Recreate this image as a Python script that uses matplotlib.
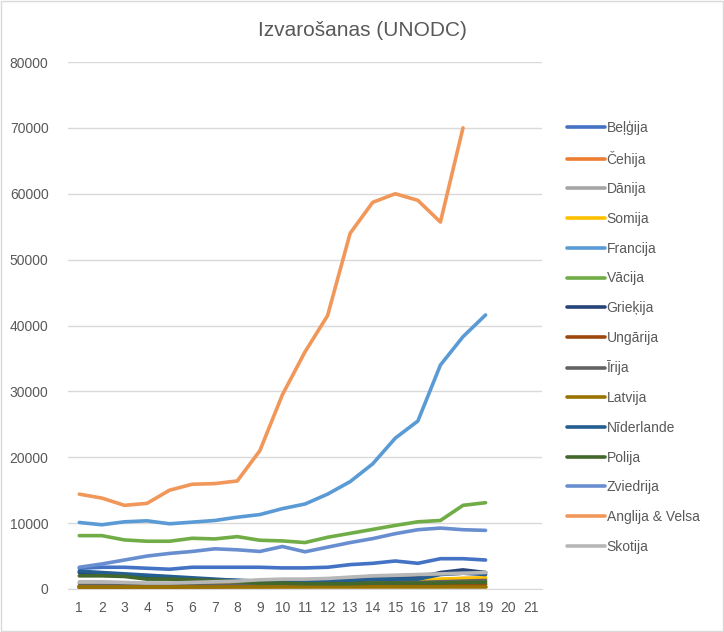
import matplotlib.pyplot as plt
import numpy as np

plt.rcParams['font.family'] = ['Liberation Sans', 'DejaVu Sans']

years = list(range(1, 22))

# values (series index 1..19, no data for 20, 21)
belgija = [3150, 3300, 3300, 3150, 3000, 3300, 3300, 3300, 3300, 3200, 3200, 3300, 3700, 3900, 4250, 3900, 4600, 4600, 4400]
cehija = [300, 300, 300, 350, 350, 400, 450, 500, 500, 600, 700, 800, 900, 1000, 1100, 1200, 1400, 1600, 1600]
danija = [900, 900, 900, 850, 850, 900, 1000, 1100, 1300, 1400, 1400, 1500, 1700, 1900, 2000, 2100, 2300, 2400, 2500]
somija = [400, 450, 450, 500, 550, 600, 700, 800, 700, 800, 900, 1000, 1200, 1300, 1400, 1400, 1500, 1600, 1700]
francija = [10100, 9750, 10200, 10350, 9900, 10150, 10400, 10900, 11300, 12200, 12900, 14400, 16300, 19000, 22900, 25500, 34000, 38300, 41600]
vacija = [8100, 8100, 7450, 7250, 7250, 7700, 7600, 7950, 7400, 7300, 7050, 7850, 8450, 9050, 9650, 10200, 10400, 12700, 13100]
griekija = [2500, 2300, 2100, 1700, 1600, 1500, 1400, 1300, 1200, 1100, 1100, 1200, 1300, 1400, 1500, 1700, 2500, 2900, 2500]
ungarija = [200, 200, 250, 250, 250, 300, 300, 350, 350, 400, 400, 450, 500, 500, 550, 600, 650, 700, 700]
irija = [500, 500, 500, 500, 550, 550, 600, 600, 650, 700, 700, 750, 800, 900, 950, 1000, 1100, 1200, 1300]
latvija = [300, 300, 300, 300, 300, 300, 300, 300, 300, 300, 300, 300, 300, 300, 300, 300, 300, 300, 300]
niderlande = [2700, 2500, 2300, 2100, 1900, 1700, 1500, 1300, 1200, 1100, 1100, 1100, 1300, 1500, 1500, 1500, 2200, 2400, 2200]
polija = [2000, 2000, 1900, 1500, 1500, 1400, 1300, 1100, 900, 900, 800, 800, 800, 900, 900, 900, 900, 1000, 1000]
zviedrija = [3300, 3800, 4400, 5000, 5400, 5700, 6100, 5950, 5700, 6450, 5650, 6350, 7050, 7650, 8400, 9000, 9250, 9000, 8900]
anglija = [14400, 13800, 12700, 13000, 15000, 15900, 16000, 16400, 21000, 29500, 36000, 41500, 54000, 58700, 60000, 59000, 55700, 70000]
skotija = [1100, 1100, 1000, 900, 900, 1000, 1100, 1200, 1400, 1500, 1500, 1600, 1800, 2000, 2100, 2200, 2300, 2400, 2500]

series = [
    ('Beļģija', belgija, '#4472C4'),
    ('Čehija', cehija, '#ED7D31'),
    ('Dānija', danija, '#A5A5A5'),
    ('Somija', somija, '#FFC000'),
    ('Francija', francija, '#5B9BD5'),
    ('Vācija', vacija, '#70AD47'),
    ('Grieķija', griekija, '#264478'),
    ('Ungārija', ungarija, '#9E480E'),
    ('Īrija', irija, '#636363'),
    ('Latvija', latvija, '#997300'),
    ('Nīderlande', niderlande, '#255E91'),
    ('Polija', polija, '#43682B'),
    ('Zviedrija', zviedrija, '#698ED0'),
    ('Anglija & Velsa', anglija, '#F1975A'),
    ('Skotija', skotija, '#B7B7B7'),
]

fig = plt.figure(figsize=(7.24, 6.32), dpi=100)
ax = fig.add_axes([68/724, 1-589/632, (542-68)/724, (589-62)/632])

for name, vals, col in series:
    ax.plot(years[:len(vals)], vals, color=col, lw=2.6, label=name,
            solid_capstyle='round', solid_joinstyle='round')

ax.set_xlim(0.5, 21.5)
ax.set_ylim(0, 80000)
ax.set_xticks(years)
ax.set_yticks(np.arange(0, 80001, 10000))
ax.tick_params(colors='#595959', labelsize=10, length=0)
ax.tick_params(axis='x', pad=9)
ax.tick_params(axis='y', pad=14)
ax.grid(axis='y', color='#D9D9D9', lw=1)
ax.set_axisbelow(True)
for s in ['top', 'right', 'left']:
    ax.spines[s].set_visible(False)
ax.spines['bottom'].set_color('#D9D9D9')

fig.text(0.5, 1-30/632, 'Izvarošanas (UNODC)', ha='center', va='center',
         fontsize=15, color='#595959')

ax.legend(loc='center left', bbox_to_anchor=(0.766, 1-337/632),
          bbox_transform=fig.transFigure, frameon=False, fontsize=10,
          handlelength=2.7, handletextpad=0.15, labelspacing=1.13,
          labelcolor='#595959')

fig.patches.append(plt.Rectangle((0.002, 0.002), 0.996, 0.996, transform=fig.transFigure,
                                 fill=False, edgecolor='#D9D9D9', lw=1))

fig.savefig('out.png', dpi=100)
